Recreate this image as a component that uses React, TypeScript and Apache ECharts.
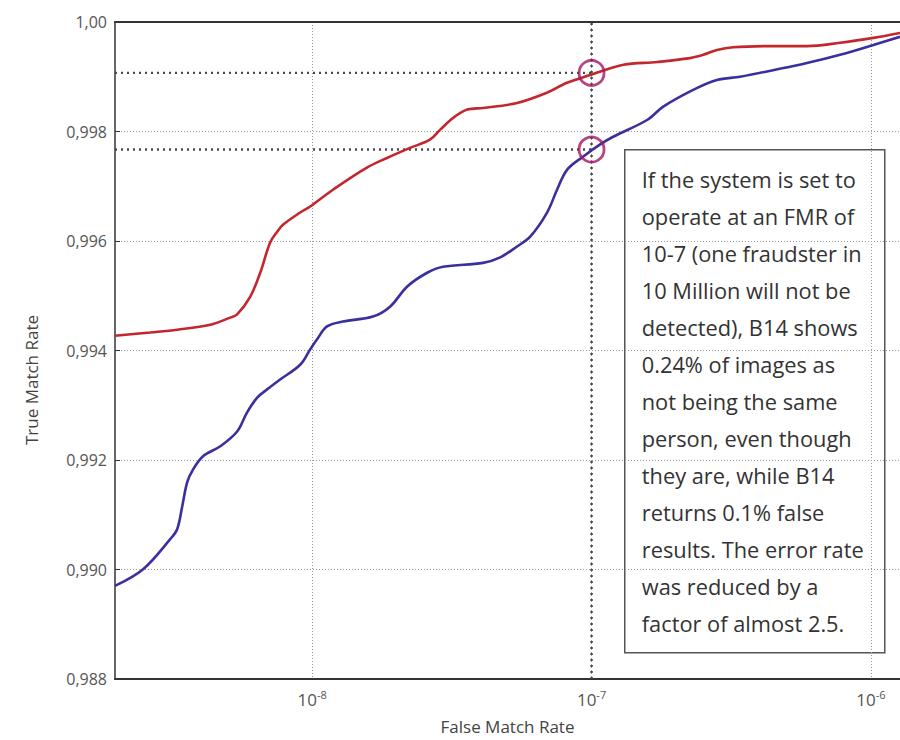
import React, { useEffect, useRef } from "react";
import * as echarts from "echarts";

// False Match Rate (x, log scale) and True Match Rate (y) for the two curves
const redFMR = [1.97e-9, 2.63e-9, 3.29e-9, 4.32e-9, 5.09e-9, 5.39e-9, 6.0e-9, 6.52e-9, 7.07e-9, 7.5e-9, 7.88e-9, 9.06e-9, 9.84e-9, 1.19e-8, 1.57e-8, 1.86e-8, 2.24e-8, 2.64e-8, 2.87e-8, 3.2e-8, 3.59e-8, 4.09e-8, 5.41e-8, 6.93e-8, 8.17e-8, 9.88e-8, 1.07e-7, 1.3e-7, 1.72e-7, 2.25e-7, 2.51e-7, 2.81e-7, 3.21e-7, 4.46e-7, 5.9e-7, 7.75e-7, 1.02e-6, 1.27e-6];
const redTMR = [0.99427, 0.99433, 0.99438, 0.99447, 0.9946, 0.99466, 0.99498, 0.99542, 0.99597, 0.99617, 0.9963, 0.99652, 0.99663, 0.99694, 0.99734, 0.99752, 0.9977, 0.99785, 0.99803, 0.99825, 0.9984, 0.99843, 0.99852, 0.99871, 0.99889, 0.99903, 0.99909, 0.99922, 0.99927, 0.99934, 0.9994, 0.99949, 0.99954, 0.99956, 0.99956, 0.99962, 0.99971, 0.9998];

const blueFMR = [1.97e-9, 2.49e-9, 3.1e-9, 3.29e-9, 3.43e-9, 3.57e-9, 3.75e-9, 4.07e-9, 4.69e-9, 5.39e-9, 5.85e-9, 6.36e-9, 6.9e-9, 7.68e-9, 9.06e-9, 9.84e-9, 1.04e-8, 1.13e-8, 1.29e-8, 1.65e-8, 1.9e-8, 2.19e-8, 2.58e-8, 2.94e-8, 4.09e-8, 4.71e-8, 5.41e-8, 6.03e-8, 6.93e-8, 7.53e-8, 8.17e-8, 9.32e-8, 1.07e-7, 1.19e-7, 1.58e-7, 1.8e-7, 2.31e-7, 2.81e-7, 3.4e-7, 4.46e-7, 5.9e-7, 7.75e-7, 1.02e-6, 1.27e-6];
const blueTMR = [0.9897, 0.99001, 0.99055, 0.99074, 0.99116, 0.99159, 0.99183, 0.99207, 0.99225, 0.99252, 0.99287, 0.99314, 0.99329, 0.99347, 0.99374, 0.99402, 0.9942, 0.99444, 0.99453, 0.99462, 0.9948, 0.99517, 0.99542, 0.99553, 0.9956, 0.9957, 0.9959, 0.99608, 0.99652, 0.99694, 0.9973, 0.99754, 0.99776, 0.9979, 0.99821, 0.99845, 0.99876, 0.99894, 0.999, 0.99912, 0.99925, 0.9994, 0.99958, 0.99973];

// Operating point: FMR 10^-7 and the TMR read there for each curve
const operatingFMR = 1e-7;
const operatingTMR = [0.99907, 0.99767];

const xMin = 1.97e-9;
const xMax = 1.27e-6;
const yMin = 0.988;
const yMax = 1.0;
const yStep = 0.002;

const xTitle = "False Match Rate";
const yTitle = "True Match Rate";

const noteLines = [
  "If the system is set to",
  "operate at an FMR of",
  "10-7 (one fraudster in",
  "10 Million will not be",
  "detected), B14 shows",
  "0.24% of images as",
  "not being the same",
  "person, even though",
  "they are, while B14",
  "returns 0.1% false",
  "results. The error rate",
  "was reduced by a",
  "factor of almost 2.5.",
];

const FONT = "'Open Sans', 'Noto Sans', sans-serif";

export default function App() {
  const ref = useRef<HTMLDivElement>(null);

  useEffect(() => {
    if (!ref.current) return;
    const chart = echarts.init(ref.current, undefined, { renderer: "svg" });

    const dotted = { color: "#4a4a4a", width: 2.4, type: [2, 4] as number[] };

    const option: any = {
      animation: false,
      backgroundColor: "#ffffff",
      grid: { left: 115, top: 22, right: 0, bottom: 60 },
      xAxis: [
        {
          type: "log",
          logBase: 10,
          min: xMin,
          max: xMax,
          name: xTitle,
          nameLocation: "middle",
          nameGap: 39,
          nameTextStyle: { fontFamily: FONT, fontSize: 17, color: "#444" },
          axisLine: { show: true, lineStyle: { color: "#333", width: 2 } },
          axisTick: { show: false },
          minorTick: { show: false },
          splitLine: {
            show: true,
            showMinLine: false,
            showMaxLine: false,
            lineStyle: { color: "#999", width: 1, type: [1, 2] },
          },
          axisLabel: {
            margin: 10,
            fontFamily: FONT,
            fontSize: 17,
            color: "#555",
            showMinLabel: false,
            showMaxLabel: false,
            formatter: (v: number) => {
              const e = Math.log10(v);
              const r = Math.round(e);
              if (Math.abs(e - r) > 1e-6) return "";
              return `{b|10}{s|${r}}`;
            },
            rich: {
              b: { fontFamily: FONT, fontSize: 17, color: "#555" },
              s: { fontFamily: FONT, fontSize: 11, color: "#555", padding: [0, 0, 10, 0] },
            },
          },
        },
        {
          type: "log",
          logBase: 10,
          min: xMin,
          max: xMax,
          position: "top",
          axisLine: { show: true, lineStyle: { color: "#333", width: 2 } },
          axisTick: { show: false },
          axisLabel: { show: false },
          splitLine: { show: false },
        },
      ],
      yAxis: {
        type: "value",
        min: yMin,
        max: yMax,
        interval: yStep,
        axisLine: { show: true, lineStyle: { color: "#666", width: 2 } },
        axisTick: { show: true, inside: true, length: 5, lineStyle: { color: "#333", width: 1 } },
        splitLine: {
          show: true,
          showMinLine: false,
          showMaxLine: false,
          lineStyle: { color: "#999", width: 1, type: [1, 2] },
        },
        axisLabel: {
          margin: 8,
          fontFamily: FONT,
          fontSize: 16,
          color: "#555",
          formatter: (v: number) =>
            Math.abs(v - 1) < 1e-9 ? "1,00" : v.toFixed(3).replace(".", ","),
        },
      },
      series: [
        {
          type: "line",
          data: [
            [xMin, operatingTMR[0]],
            [operatingFMR, operatingTMR[0]],
          ],
          showSymbol: false,
          lineStyle: dotted,
          z: 2,
          silent: true,
        },
        {
          type: "line",
          data: [
            [xMin, operatingTMR[1]],
            [operatingFMR, operatingTMR[1]],
          ],
          showSymbol: false,
          lineStyle: dotted,
          z: 2,
          silent: true,
        },
        {
          type: "line",
          data: [
            [operatingFMR, yMin],
            [operatingFMR, yMax],
          ],
          showSymbol: false,
          lineStyle: dotted,
          z: 2,
          silent: true,
        },
        {
          name: "red",
          type: "line",
          data: redFMR.map((x, i) => [x, redTMR[i]]),
          smooth: 0.35,
          showSymbol: false,
          lineStyle: { color: "#c4262e", width: 2.6 },
          z: 3,
        },
        {
          name: "blue",
          type: "line",
          data: blueFMR.map((x, i) => [x, blueTMR[i]]),
          smooth: 0.35,
          showSymbol: false,
          lineStyle: { color: "#3a2f9f", width: 2.6 },
          z: 3,
        },
        {
          type: "scatter",
          data: operatingTMR.map((t) => [operatingFMR, t]),
          symbol: "circle",
          symbolSize: 25,
          itemStyle: { color: "rgba(0,0,0,0)", borderColor: "#a21862", borderWidth: 2.8 },
          z: 4,
          silent: true,
        },
      ],
      graphic: [
        {
          type: "text",
          x: 31,
          y: 380,
          rotation: Math.PI / 2,
          style: {
            text: yTitle,
            fontFamily: FONT,
            fontSize: 17,
            fill: "#444",
            align: "center",
            verticalAlign: "middle",
          },
        },
        {
          type: "group",
          left: 624,
          top: 149,
          z: 10,
          children: [
            {
              type: "rect",
              shape: { x: 0, y: 0, width: 260, height: 503 },
              style: { fill: "#ffffff", stroke: "#555", lineWidth: 1.5 },
            },
            {
              type: "text",
              x: 17,
              y: 11,
              style: {
                text: noteLines.join("\n"),
                fontFamily: FONT,
                fontSize: 21.8,
                lineHeight: 37,
                fill: "#333",
              },
            },
          ],
        },
      ],
    };

    chart.setOption(option);
    return () => chart.dispose();
  }, []);

  return (
    <div
      ref={ref}
      style={{ position: "absolute", left: 0, top: 0, width: 900, height: 740 }}
    />
  );
}
